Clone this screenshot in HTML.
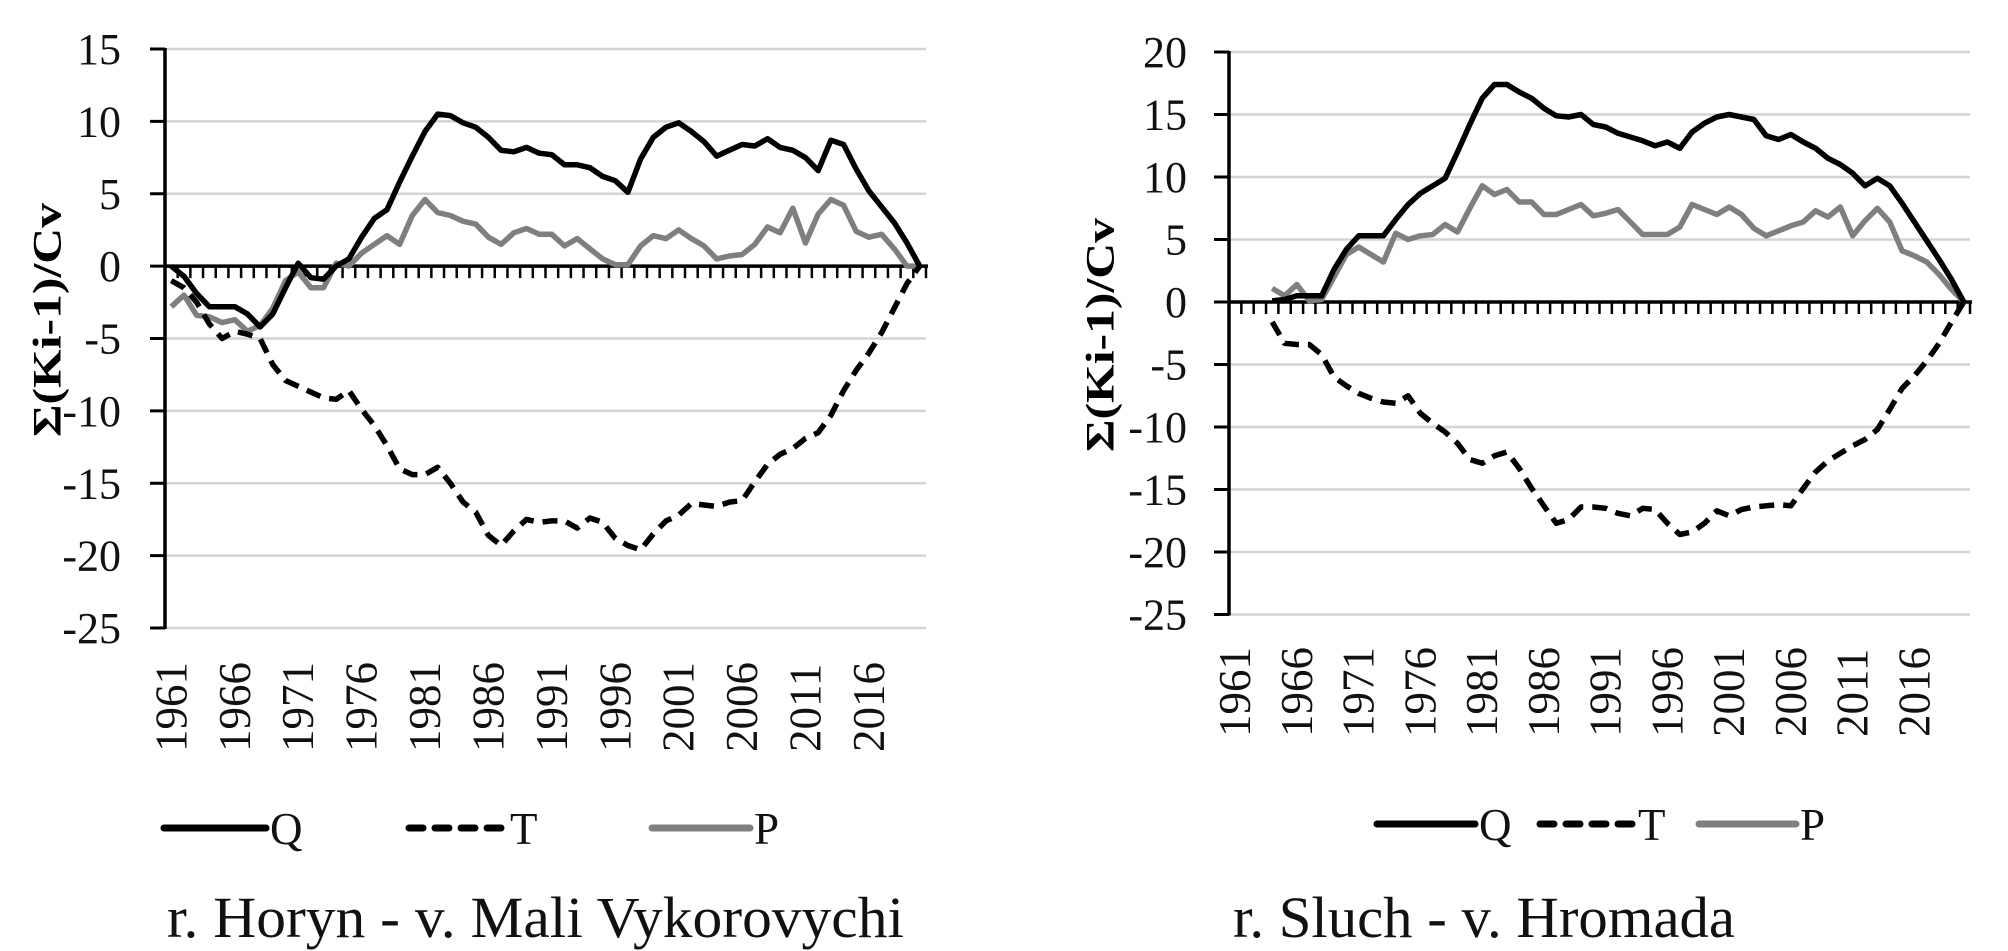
<!DOCTYPE html>
<html><head><meta charset="utf-8"><style>
html,body{margin:0;padding:0;background:#fff;}
svg{display:block;font-family:"Liberation Serif",serif;}
</style></head><body>
<svg id="root" width="2008" height="951" viewBox="0 0 2008 951" xmlns="http://www.w3.org/2000/svg"></svg>
<script>
const years = [];
for (let y = 1961; y <= 2020; y++) years.push(y);
const yearLabels = ['1961','1966','1971','1976','1981','1986','1991','1996','2001','2006','2011','2016'];

const leftTicks = [15,10,5,0,-5,-10,-15,-20,-25];
const rightTicks = [20,15,10,5,0,-5,-10,-15,-20,-25];

const horynQ = [0,-0.7,-1.9,-2.8,-2.8,-2.8,-3.3,-4.2,-3.3,-1.5,0.2,-0.8,-0.9,0,0.5,2,3.3,3.9,5.8,7.6,9.3,10.5,10.4,9.9,9.6,8.9,8.0,7.9,8.2,7.8,7.7,7.0,7.0,6.8,6.2,5.9,5.1,7.4,8.9,9.6,9.9,9.3,8.6,7.6,8.0,8.4,8.3,8.8,8.2,8.0,7.5,6.6,8.7,8.4,6.7,5.2,4.1,3.0,1.6,0];
const horynT = [-1.0,-1.5,-2.5,-4.0,-5.0,-4.5,-4.7,-5.0,-6.8,-7.9,-8.3,-8.7,-9.1,-9.2,-8.6,-9.9,-11.0,-12.4,-14.0,-14.4,-14.4,-13.9,-15.0,-16.3,-17.0,-18.6,-19.3,-18.3,-17.5,-17.7,-17.6,-17.6,-18.1,-17.4,-17.7,-18.8,-19.3,-19.6,-18.5,-17.6,-17.2,-16.4,-16.5,-16.6,-16.3,-16.2,-14.9,-13.7,-13.0,-12.6,-11.9,-11.5,-10.3,-8.6,-7.2,-6.0,-4.6,-2.9,-1.2,0];
const horynP = [-2.8,-2.0,-3.4,-3.5,-3.9,-3.7,-4.5,-4.1,-2.9,-1.0,-0.4,-1.5,-1.5,0.2,0,0.9,1.5,2.1,1.5,3.5,4.6,3.7,3.5,3.1,2.9,2.0,1.5,2.3,2.6,2.2,2.2,1.4,1.9,1.2,0.5,0.1,0.1,1.4,2.1,1.9,2.5,1.9,1.4,0.5,0.7,0.8,1.5,2.7,2.3,4.0,1.6,3.6,4.6,4.2,2.4,2.0,2.2,1.2,0,0];

const sluchQ = [null,null,null,0.1,0.2,0.5,0.5,0.5,2.6,4.2,5.3,5.3,5.3,6.6,7.8,8.7,9.3,9.9,12.0,14.2,16.3,17.4,17.4,16.8,16.3,15.5,14.9,14.8,15.0,14.2,14.0,13.5,13.2,12.9,12.5,12.8,12.3,13.6,14.3,14.8,15.0,14.8,14.6,13.3,13.0,13.4,12.8,12.3,11.5,11.0,10.3,9.3,9.9,9.3,7.9,6.4,4.9,3.4,1.8,0];
const sluchT = [null,null,null,-1.6,-3.3,-3.4,-3.4,-4.2,-6.0,-6.7,-7.3,-7.7,-8.0,-8.1,-7.5,-8.9,-9.7,-10.4,-11.3,-12.6,-12.9,-12.3,-12.0,-13.3,-14.9,-16.3,-17.7,-17.4,-16.4,-16.4,-16.5,-16.9,-17.1,-16.5,-16.6,-17.7,-18.6,-18.4,-17.7,-16.7,-17.1,-16.6,-16.4,-16.3,-16.2,-16.3,-14.9,-13.6,-12.7,-12.1,-11.5,-11.0,-10.2,-8.6,-6.9,-5.9,-4.7,-3.3,-1.6,0];
const sluchP = [null,null,null,1.1,0.5,1.4,0.1,0.2,2.0,3.8,4.4,3.8,3.2,5.5,5.0,5.3,5.4,6.2,5.6,7.5,9.3,8.6,9.0,8.0,8.0,7.0,7.0,7.4,7.8,6.9,7.1,7.4,6.4,5.4,5.4,5.4,6.0,7.8,7.4,7.0,7.6,7.0,5.9,5.3,5.7,6.1,6.4,7.3,6.8,7.6,5.3,6.5,7.5,6.4,4.1,3.7,3.2,2.2,1.0,0];

const NS = 'http://www.w3.org/2000/svg';
const root = document.getElementById('root');
function mk(tag, attrs, parent) {
  const e = document.createElementNS(NS, tag);
  for (const k in attrs) e.setAttribute(k, attrs[k]);
  (parent || root).appendChild(e);
  return e;
}

function drawChart(cfg) {
  const g = mk('g', {});
  
  
  const n = years.length;
  const step = (cfg.x1 - cfg.x0) / n;
  const xPos = i => cfg.x0 + step * (i + 0.5);
  const yPos = v => cfg.yTop + (cfg.yMax - v) * (cfg.yBot - cfg.yTop) / (cfg.yMax - cfg.yMin);

  // gridlines & y ticks
  cfg.ticks.forEach(t => {
    const y = yPos(t);
    if (t !== 0) {
      const gl = mk('line', {x1: cfg.x0, x2: cfg.x1, y1: y, y2: y, stroke: '#d4d4d4', 'stroke-width': 2.5}, g);
      
      
    }
    const tk = mk('line', {x1: cfg.x0 - 15, x2: cfg.x0, y1: y, y2: y, stroke: '#000', 'stroke-width': 3}, g);
    
    
    const tl = mk('text', {x: cfg.labelX, y: y + 15, 'text-anchor': 'end', 'font-size': 44, fill: '#111'}, g);
    tl.textContent = String(t);
    
    
  });

  // y axis
  const ya = mk('line', {x1: cfg.x0, x2: cfg.x0, y1: yPos(cfg.yMax) - 1, y2: yPos(cfg.yMin) + 1, stroke: '#000', 'stroke-width': 3.5}, g);
  
  

  // x axis at zero with minor ticks
  const y0 = yPos(0);
  const xa = mk('line', {x1: cfg.x0, x2: cfg.x1 + 2, y1: y0, y2: y0, stroke: '#000', 'stroke-width': 3.5}, g);
  
  
  for (let i = 0; i <= n; i++) {
    const x = cfg.x0 + step * i;
    const mt = mk('line', {x1: x, x2: x, y1: y0, y2: y0 + 12, stroke: '#000', 'stroke-width': 2.5}, g);
    
    
  }

  // x labels
  yearLabels.forEach(lbl => {
    const i = years.indexOf(parseInt(lbl, 10));
    const x = xPos(i);
    const t = mk('text', {x: 0, y: 0, 'font-size': 45, 'text-anchor': 'start', 'dominant-baseline': 'central', fill: '#111',
      transform: 'translate(' + x + ',' + cfg.xLabelBottom + ') rotate(-90)'}, g);
    t.textContent = lbl;
    
    
  });

  // y axis title
  const yt = mk('text', {x: 0, y: 0, 'font-size': 40, 'font-weight': 'bold', 'text-anchor': 'middle', 'dominant-baseline': 'central', fill: '#000',
    textLength: 234, lengthAdjust: 'spacingAndGlyphs',
    transform: 'translate(' + cfg.titleX + ',' + cfg.titleY + ') rotate(-90)'}, g);
  yt.textContent = 'Σ(Ki-1)/Cv';
  
  

  // series
  const series = [
    {vals: cfg.P, color: '#7f7f7f', dash: null, name: 'series-p'},
    {vals: cfg.T, color: '#000', dash: '15,9', name: 'series-t'},
    {vals: cfg.Q, color: '#000', dash: null, name: 'series-q'}
  ];
  series.forEach(s => {
    let d = '';
    let started = false;
    s.vals.forEach((v, i) => {
      if (v === null) return;
      d += (started ? 'L' : 'M') + xPos(i).toFixed(1) + ',' + yPos(v).toFixed(1);
      started = true;
    });
    const attrs = {d: d, fill: 'none', stroke: s.color, 'stroke-width': 5.5, 'stroke-linejoin': 'round'};
    if (s.dash) attrs['stroke-dasharray'] = s.dash;
    const p = mk('path', attrs, g);
    
    
  });

  // legend
  const lg = mk('g', {}, g);
  
  
  cfg.legend.forEach(e => {
    const attrs = {x1: e.x1, x2: e.x2, y1: cfg.legendY, y2: cfg.legendY, stroke: e.color, 'stroke-width': 7, 'stroke-linecap': 'round'};
    if (e.dash) attrs['stroke-dasharray'] = e.dash;
    const l = mk('line', attrs, lg);
    
    
    const t = mk('text', {x: e.x2 + 4, y: cfg.legendY + 16, 'font-size': 45, fill: '#111'}, lg);
    t.textContent = e.label;
    
    
  });

  // caption
  const c = mk('text', {x: cfg.capX, y: 937, 'font-size': 58, fill: '#111', textLength: cfg.capW, lengthAdjust: 'spacingAndGlyphs'}, g);
  c.textContent = cfg.caption;
  
  
}

drawChart({
  name: 'chart-horyn', x0: 165, x1: 926, yTop: 49, yBot: 628, yMax: 15, yMin: -25,
  ticks: leftTicks, labelX: 121, xLabelBottom: 752, titleX: 47, titleY: 320,
  Q: horynQ, T: horynT, P: horynP,
  legendY: 828,
  legend: [
    {x1: 164, x2: 266, color: '#000', dash: null, label: 'Q'},
    {x1: 409, x2: 506, color: '#000', dash: '14,12', label: 'T'},
    {x1: 652, x2: 750, color: '#7f7f7f', dash: null, label: 'P'}
  ],
  caption: 'r. Horyn - v. Mali Vykorovychi', capX: 167, capW: 737
});

drawChart({
  name: 'chart-sluch', x0: 1229, x1: 1970, yTop: 52, yBot: 614.5, yMax: 20, yMin: -25,
  ticks: rightTicks, labelX: 1187, xLabelBottom: 737, titleX: 1100, titleY: 335,
  Q: sluchQ, T: sluchT, P: sluchP,
  legendY: 824,
  legend: [
    {x1: 1377, x2: 1475, color: '#000', dash: null, label: 'Q'},
    {x1: 1540, x2: 1634, color: '#000', dash: '14,12', label: 'T'},
    {x1: 1699, x2: 1796, color: '#7f7f7f', dash: null, label: 'P'}
  ],
  caption: 'r. Sluch - v. Hromada', capX: 1233, capW: 502
});
</script>
</body></html>
